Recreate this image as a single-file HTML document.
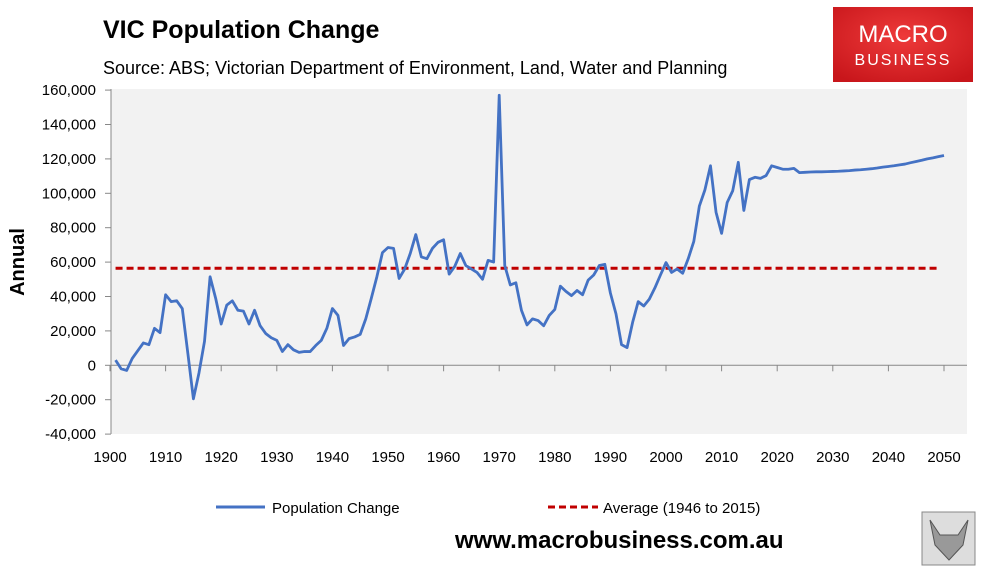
<!DOCTYPE html>
<html><head><meta charset="utf-8"><style>
body{margin:0;background:#fff;width:983px;height:571px;overflow:hidden;font-family:"Liberation Sans",sans-serif;}
</style></head><body>
<svg width="983" height="571" xmlns="http://www.w3.org/2000/svg">
<text x="103" y="38" font-size="25" font-weight="bold" fill="#000">VIC Population Change</text>
<text x="103" y="74" font-size="18" fill="#000">Source: ABS; Victorian Department of Environment, Land, Water and Planning</text>
<g>
<defs><radialGradient id="lg" cx="50%" cy="40%" r="70%"><stop offset="0" stop-color="#ee3a3a"/><stop offset="1" stop-color="#c8161b"/></radialGradient></defs>
<rect x="833" y="7" width="140" height="75" fill="url(#lg)"/>
<text x="903" y="42" font-size="24" fill="#fff" text-anchor="middle">MACRO</text>
<text x="903" y="65" font-size="16" fill="#fff" text-anchor="middle" letter-spacing="2">BUSINESS</text>
</g>
<rect x="111" y="89" width="856" height="345" fill="#f2f2f2"/>
<g id="yaxis"></g>
<g id="xaxis"></g>
<g id="series"></g>
<text transform="translate(24,262) rotate(-90)" font-size="20" font-weight="bold" text-anchor="middle">Annual</text>
<g>
<g>
<line x1="216" y1="507" x2="265" y2="507" stroke="#4472c4" stroke-width="3"/>
<text x="272" y="513" font-size="15">Population Change</text></g>
<g>
<line x1="548" y1="507" x2="598" y2="507" stroke="#c00000" stroke-width="3" stroke-dasharray="7,4"/>
<text x="603" y="513" font-size="15">Average (1946 to 2015)</text></g>
</g>
<text x="455" y="548" font-size="24" font-weight="bold">www.macrobusiness.com.au</text>
<g>
<rect x="922" y="512" width="53" height="53" fill="#ddd" stroke="#888"/>
<path d="M930 520 L940 535 L958 535 L968 520 L963 545 L949 560 L935 545 Z" fill="#999" stroke="#555"/>
</g>
</svg>
<script>
const years=[];for(let y=1901;y<=2050;y++)years.push(y);
const popChange=[3,-2,-3,4,8.5,13,12,21.5,19,41,37,37.5,33,7,-19.5,-4.5,14,51.5,39,24,35,37.5,32,31.5,24,32,23,18.5,16,14.5,8,12,9,7.5,8,8,11.5,14.5,21.5,33,29,11.5,15.5,16.5,18,27,39,51.5,65.5,68.5,68,50.5,56,65,76,63,62,68,71.5,73,53,57.5,65,58,56,54,50,61,60,157,58,46.7,48,32,23.5,27,26,23,29,32.5,46,43,40.5,43.5,41,49.5,52.5,58,58.7,42,30,12,10.3,25,37,34.5,38.5,45,52.5,59.7,54,56,53.5,62,72,92.6,102,116,89,76.7,94.6,101.5,118,90,108,109.3,108.7,110.3,116,115,114,114,114.5,112,112.2,112.4,112.5,112.5,112.6,112.7,112.8,113,113.2,113.5,113.7,114,114.3,114.7,115.2,115.6,116,116.5,117,117.8,118.5,119.2,120,120.6,121.3,122,122.8,123.5,124.3,125];
const averageValue=56.4;
const yTicks=[-40,-20,0,20,40,60,80,100,120,140,160];
const xTicks=[1900,1910,1920,1930,1940,1950,1960,1970,1980,1990,2000,2010,2020,2030,2040,2050];
const NS="http://www.w3.org/2000/svg";
const xs=y=>110+(y-1900)*5.56;
const ys=v=>365.3-v*1.72;
function mk(t,a,p){const e=document.createElementNS(NS,t);for(const k in a)e.setAttribute(k,a[k]);p.appendChild(e);return e;}
const ya=document.getElementById('yaxis'),xa=document.getElementById('xaxis'),se=document.getElementById('series');
mk('line',{x1:111,y1:89,x2:111,y2:434,stroke:'#888'},ya);
yTicks.forEach(v=>{
 mk('line',{x1:105,y1:ys(v),x2:111,y2:ys(v),stroke:'#888'},ya);
 const t=mk('text',{x:96,y:ys(v)+5,'font-size':15,'text-anchor':'end'},ya);
 
 
 t.textContent=(v*1000).toLocaleString('en-US');
});
mk('line',{x1:111,y1:ys(0),x2:967,y2:ys(0),stroke:'#888'},xa);
xTicks.forEach(y=>{
 mk('line',{x1:xs(y),y1:ys(0),x2:xs(y),y2:ys(0)+6,stroke:'#888'},xa);
 const t=mk('text',{x:xs(y),y:462,'font-size':15,'text-anchor':'middle'},xa);
 
 
 t.textContent=y;
});
const avg=mk('line',{x1:xs(years[0]),y1:ys(averageValue),x2:xs(2049),y2:ys(averageValue),stroke:'#c00000','stroke-width':3,'stroke-dasharray':'7,4'},se);


const pl=mk('polyline',{points:years.map((y,i)=>xs(y)+','+ys(popChange[i])).join(' '),fill:'none',stroke:'#4472c4','stroke-width':2.8,'stroke-linejoin':'round'},se);


</script>
</body></html>
